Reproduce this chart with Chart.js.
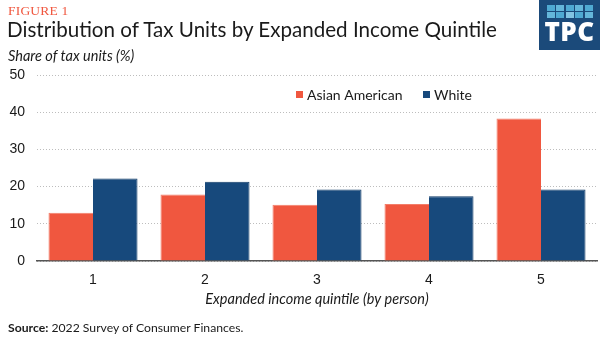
<!DOCTYPE html>
<html>
<head>
<meta charset="utf-8">
<script src="https://cdn.jsdelivr.net/npm/chart.js@4.4.1/dist/chart.umd.min.js"></script>
<style>
    html, body { margin: 0; padding: 0; background: #fff; }
    #wrap { position: relative; width: 600px; height: 342px; overflow: hidden; font-family: Lato, "Noto Sans", sans-serif; color: #1a1a1a; }
    #chart { position: absolute; left: 0; top: 0; }
    .txt { position: absolute; white-space: nowrap; }
    #fig { left: 8px; top: 3px; font-family: "Liberation Serif", "DejaVu Serif", serif; font-size: 13.5px; color: #f0573f; letter-spacing: 0.2px; }
    #title { left: 7px; top: 17px; font-size: 20.6px; }
    #ytitle { left: 8px; top: 47px; font-size: 14.5px; font-style: italic; }
    #source { left: 8px; top: 320px; font-size: 12.2px; }
    #source b { font-weight: 700; }
    #logo { position: absolute; left: 539px; top: 0; width: 61px; height: 50px; background: #1b4a7a; }
    #logo .sq { position: absolute; width: 8px; height: 6px; }
    #logo .tpc { position: absolute; left: 0; width: 61px; top: 16px; text-align: center; color: #fff; font-family: "Open Sans", Lato, sans-serif; font-weight: 800; font-size: 26px; line-height: 30px; letter-spacing: 0.5px; }
</style>
</head>
<body>
<div id="wrap">
    <canvas id="chart" width="600" height="342"></canvas>
    <div class="txt" id="fig">FIGURE 1</div>
    <div class="txt" id="title">Distribution of Tax Units by Expanded Income Quintile</div>
    <div class="txt" id="ytitle">Share of tax units (%)</div>
    <div class="txt" id="source"><b>Source:</b> 2022 Survey of Consumer Finances.</div>
    <div id="logo"><div class="tpc">TPC</div></div>
</div>
<script>
const quintiles = ['1', '2', '3', '4', '5']
const seriesNames = ['Asian American', 'White']
const asianAmerican = [13.0, 17.9, 15.1, 15.3, 38.3]
const white = [22.2, 21.3, 19.2, 17.4, 19.2]
const yTicks = [0, 10, 20, 30, 40, 50]

const ORANGE = '#f0573f'
const BLUE = '#17497c'
const TICK_FONT = { family: '"Liberation Sans", Arial, sans-serif', size: 14 }

// logo squares, two rows of five
const logo = document.getElementById('logo')
const squareColors = [
    ['#4fa9d2', '#64b6da', '#4fa9d2', '#64b6da', '#4fa9d2'],
    ['#64b6da', '#4fa9d2', '#82c4e2', '#4fa9d2', '#64b6da']
]
squareColors.forEach((row, r) => {
    row.forEach((c, i) => {
        const sq = document.createElement('div')
        sq.className = 'sq'
        sq.style.left = (8 + i * 9.4) + 'px'
        sq.style.top = (5 + r * 6.5) + 'px'
        sq.style.background = c
        logo.appendChild(sq)
    })
})

// legend drawn inside the plot, up near the top right
const insideLegend = {
    id: 'insideLegend',
    afterDraw(chart) {
        const ctx = chart.ctx
        const xs = [296, 423]
        ctx.save()
        ctx.font = '14px Lato, "Noto Sans", sans-serif'
        ctx.textBaseline = 'middle'
        chart.data.datasets.forEach((ds, i) => {
            ctx.fillStyle = ds.backgroundColor
            ctx.fillRect(xs[i], 91, 7, 7)
            ctx.fillStyle = '#1a1a1a'
            ctx.fillText(ds.label, xs[i] + 11, 95)
        })
        ctx.restore()
    }
}

new Chart(document.getElementById('chart'), {
    type: 'bar',
    data: {
        labels: quintiles,
        datasets: [
            { label: seriesNames[0], data: asianAmerican, backgroundColor: ORANGE, borderColor: '#f37d69', borderWidth: { top: 1, left: 1, right: 0, bottom: 0 } },
            { label: seriesNames[1], data: white, backgroundColor: BLUE, borderColor: '#0f3a66', borderWidth: { top: 1, left: 0, right: 1, bottom: 0 } }
        ]
    },
    options: {
        responsive: false,
        animation: false,
        events: [],
        layout: { padding: { top: 75, right: 3, left: 0, bottom: 31 } },
        datasets: { bar: { categoryPercentage: 0.795, barPercentage: 1.0 } },
        plugins: { legend: { display: false }, tooltip: { enabled: false } },
        scales: {
            x: {
                grid: { display: false, drawTicks: false },
                border: { color: '#555', width: 1.5 },
                ticks: { color: '#1a1a1a', padding: 11, font: TICK_FONT },
                title: {
                    display: true,
                    text: 'Expanded income quintile (by person)',
                    color: '#1a1a1a',
                    font: { family: 'Lato', size: 14.5, style: 'italic' },
                    padding: { top: 2, bottom: 3 }
                },
                afterFit: (scale) => { scale.height = 50 }
            },
            y: {
                min: 0,
                max: 50,
                afterBuildTicks: (scale) => { scale.ticks = yTicks.map(v => ({ value: v })) },
                grid: { color: '#bdbdbd', lineWidth: 1, drawTicks: false },
                border: { display: false, dash: [1, 2] },
                ticks: { color: '#1a1a1a', padding: 12, font: TICK_FONT },
                afterFit: (scale) => { scale.width = 37 }
            }
        }
    },
    plugins: [insideLegend]
})
</script>
</body>
</html>
